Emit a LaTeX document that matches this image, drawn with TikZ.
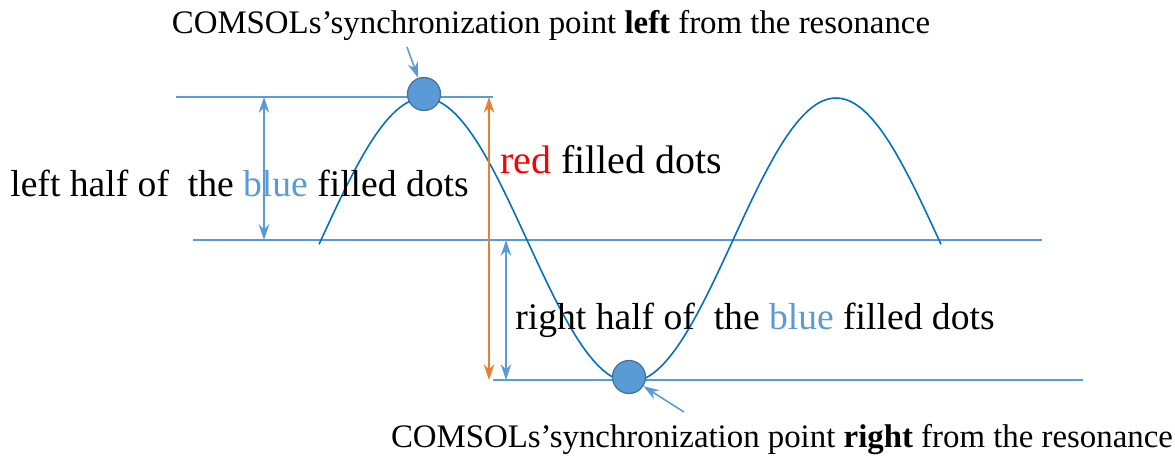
\documentclass[tikz,border=0pt]{standalone}
\usepackage{fontspec}
\setmainfont{Liberation Serif}
\usepackage{xcolor}
\usetikzlibrary{arrows.meta, positioning}
\definecolor{lineblue}{HTML}{5B9BD5}
\definecolor{curveblue}{HTML}{0070C0}
\definecolor{dotedge}{HTML}{41719C}
\definecolor{markorange}{HTML}{ED7D31}

\begin{document}
\begin{tikzpicture}[
    x=0.02cm, y=-0.02cm,
    >={Stealth[length=9pt, width=6pt]},
    level/.style={lineblue, line width=0.9pt},
    span/.style={<->, lineblue, line width=0.9pt},
    dot/.style={circle, fill=lineblue, draw=dotedge, line width=0.7pt, inner sep=0pt, minimum size=0.66cm},
    note/.style={font=\fontsize{18.7}{22}\selectfont, inner sep=0pt},
    label/.style={font=\fontsize{21.4}{25}\selectfont, inner sep=0pt, anchor=west}
  ]
  \useasboundingbox (0,0) rectangle (1175,461);

  % Levels
  \coordinate (topL) at (176, 97);
  \coordinate (topR) at (493, 97);
  \coordinate (midL) at (193, 240);
  \coordinate (midR) at (1042, 240);
  \coordinate (botL) at (493, 380);
  \coordinate (botR) at (1083, 380);
  \draw[level] (topL) -- (topR);
  \draw[level] (midL) -- (midR);
  \draw[level] (botL) -- (botR);

  % Curve
  \draw[curveblue, line width=0.9pt] plot[domain=319:941, samples=150, smooth]
    (\x, {240-142*sin((\x-321)/206*180)});

  % Synchronization points
  \node[dot] (left) at (424, 94) {};
  \node[dot] (right) at (629, 377) {};

  \node[note] (lefttxt) at (551, 25)
    {COMSOLs’synchronization point \textbf{left} from the resonance};
  \node[note] (righttxt) at (782, 440)
    {COMSOLs’synchronization point \textbf{right} from the resonance};

  \coordinate (lefttail) at (407, 47);
  \coordinate (righttail) at (684, 412);
  \draw[->, lineblue, line width=0.9pt] (lefttail) -- (left);
  \draw[->, lineblue, line width=0.9pt] (righttail) -- (right);

  % Spans
  \coordinate (aT) at (264, 97);
  \coordinate (aB) at (264, 240);
  \draw[span] (aT) -- (aB);
  \coordinate (oT) at (489, 97);
  \coordinate (oB) at (489, 380);
  \draw[<->, markorange, line width=1.1pt] (oT) -- (oB);
  \coordinate (bT) at (506, 240);
  \coordinate (bB) at (506, 380);
  \draw[span] (bT) -- (bB);

  % Labels
  \node[label] (lefthalf) at (10, 183)
    {left half of \ the \textcolor{lineblue}{blue} filled dots};
  \node[label] (righthalf) at (515, 320)
    {right half of \ the \textcolor{lineblue}{blue} filled dots};
  \node[label, font=\fontsize{22.7}{26}\selectfont] (reddots) at (500, 160)
    {\textcolor{red}{red} filled dots};
\end{tikzpicture}
\end{document}
